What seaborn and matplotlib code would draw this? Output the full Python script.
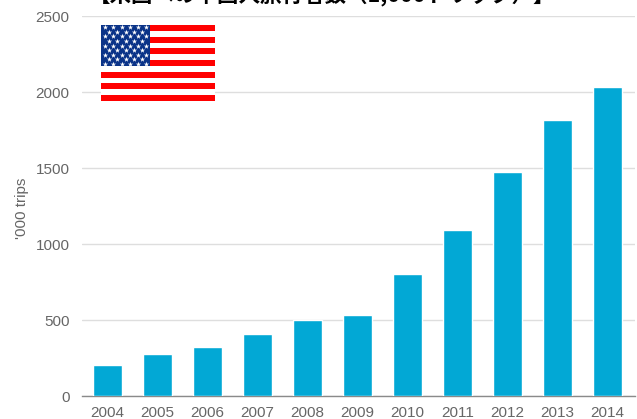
import matplotlib
matplotlib.use("Agg")
import matplotlib.pyplot as plt
import pandas as pd
import seaborn as sns

years = ["2004", "2005", "2006", "2007", "2008", "2009", "2010", "2011", "2012", "2013", "2014"]
trips = [205, 275, 325, 405, 500, 530, 805, 1095, 1475, 1815, 2030]
y_ticks = [0, 500, 1000, 1500, 2000, 2500]
heading = "【米国への中国人旅行者数（1,000トリップ）】"
y_title = "'000 trips"

W, H = 637, 419
BAR = "#02a8d5"
GREY = "#666666"

sns.set_theme(style="white")
plt.rcParams["font.family"] = ["Liberation Sans", "Noto Sans CJK JP", "DejaVu Sans"]

fig = plt.figure(figsize=(W / 100, H / 100), dpi=100, facecolor="white")
ax = fig.add_axes([82 / W, (H - 396) / H, (635 - 82) / W, 380 / H])

frame = pd.DataFrame({"year": years, "trips": trips})
sns.barplot(data=frame, x="year", y="trips", color=BAR, saturation=1, width=0.59, ax=ax, zorder=3)

ax.set_xlim(-0.51, 10.55)
ax.set_ylim(0, 2500)
ax.set_yticks(y_ticks)
ax.yaxis.grid(True, color="#dedede", linewidth=1)
ax.set_axisbelow(True)
ax.tick_params(axis="both", length=0, labelcolor=GREY, labelsize=11)
ax.tick_params(axis="x", pad=7)
ax.tick_params(axis="y", pad=9)
ax.set_xlabel("")
ax.set_ylabel("")
for side in ("top", "right", "left"):
    ax.spines[side].set_visible(False)
ax.spines["bottom"].set_color("#8a8a8a")
ax.spines["bottom"].set_linewidth(1)

fig.text(22 / W, (H - 208) / H, y_title, rotation=90, ha="center", va="center",
         color=GREY, fontsize=11)

# Heading sits against the top edge, so only its lower part stays on the canvas
fig.text(322 / W, (H - 2) / H, heading, ha="center", va="baseline",
         color="black", fontsize=15.5, fontweight="bold",
         family=["Noto Sans CJK JP", "DejaVu Sans"])

# Flag: thirteen stripes, a blue canton and rows of white stars
flag = fig.add_axes([101 / W, (H - 101) / H, 114 / W, 76 / H], zorder=5)
flag.set_xlim(0, 114)
flag.set_ylim(13, 0)
flag.axis("off")
for stripe in range(13):
    flag.axhspan(stripe, stripe + 1, color="#ff0000" if stripe % 2 == 0 else "white", linewidth=0)
flag.axhspan(0, 7, xmin=0, xmax=49 / 114, color="#0a3388", linewidth=0, zorder=2)
star_x, star_y = [], []
for row in range(9):
    cols = 6 if row % 2 == 0 else 5
    start = 4.1 if row % 2 == 0 else 8.2
    for col in range(cols):
        star_x.append(start + col * 8.2)
        star_y.append(0.39 + row * 0.78)
flag.scatter(star_x, star_y, marker="*", s=16, color="white", linewidths=0, zorder=3)

fig.savefig("out.png", dpi=100, facecolor="white")
